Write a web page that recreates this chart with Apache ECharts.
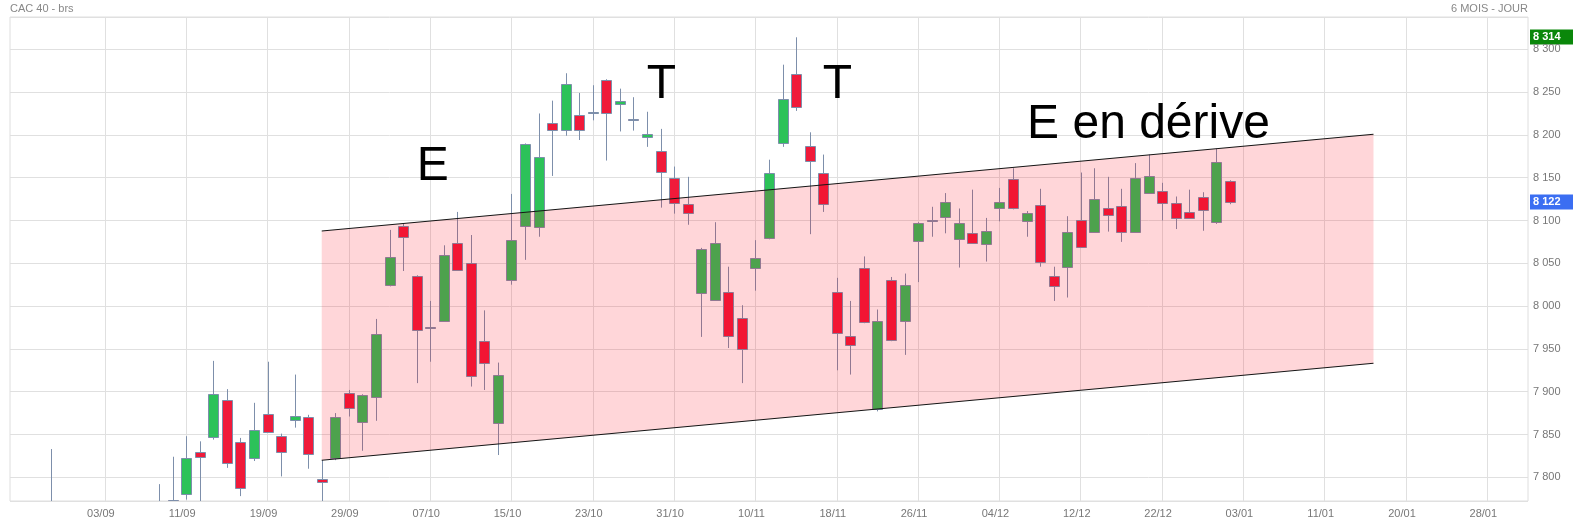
<!DOCTYPE html>
<html><head><meta charset="utf-8">
<script src="https://cdn.jsdelivr.net/npm/echarts@6/dist/echarts.min.js"></script>
<style>html,body{margin:0;padding:0;background:#fff}#c{width:1573px;height:522px}</style>
</head><body><div id="c"></div>
<script>
// ---- data ----
const categories = ['25/08','26/08','27/08','28/08','29/08','01/09','02/09','03/09','04/09','05/09','08/09','09/09','10/09','11/09','12/09','15/09','16/09','17/09','18/09','19/09','22/09','23/09','24/09','25/09','26/09','29/09','30/09','01/10','02/10','03/10','06/10','07/10','08/10','09/10','10/10','13/10','14/10','15/10','16/10','17/10','20/10','21/10','22/10','23/10','24/10','27/10','28/10','29/10','30/10','31/10','03/11','04/11','05/11','06/11','07/11','10/11','11/11','12/11','13/11','14/11','17/11','18/11','19/11','20/11','21/11','24/11','25/11','26/11','27/11','28/11','01/12','02/12','03/12','04/12','05/12','08/12','09/12','10/12','11/12','12/12','15/12','16/12','17/12','18/12','19/12','22/12','23/12','24/12','29/12','30/12','31/12','03/01','05/01','06/01','07/01','08/01','09/01','11/01','12/01','13/01','14/01','15/01','16/01','20/01','21/01','22/01','23/01','26/01','27/01','28/01','29/01','30/01','02/02'];

const opens  = [null,null,null,7745,7740,7705,7710,7660,7720,7700,7690,7740,7774,7781,7830,7847,7890,7841,7822,7874,7848,7867,7871,7798,7822,7899,7865,7894,8025,8093,8035,7976,7983,8074,8050,7959,7863,8030,8093,8092,8214,8206,8223,8225,8264,8236,8219,8198,8181,8150,8119,8015,8007,8016,7986,8044,8080,8190,8271,8187,8156,8017,7965,8045,7880,8030,7982,8076,8100,8104,8078,8085,8072,8115,8148,8099,8118,8035,8046,8100,8087,8114,8117,8087,8132,8135,8120,8110,8127,8098,8146];
const closes = [null,null,null,7752,7705,7710,7655,7720,7700,7690,7735,7745,7760,7823,7824,7897,7817,7787,7855,7853,7830,7872,7827,7795,7870,7881,7896,7967,8057,8081,7972,7975,8060,8042,7918,7934,7919,8077,8189,8174,8206,8259,8206,8227,8225,8240,8217,8201,8157,8121,8109,8067,8074,7965,7950,8056,8156,8242,8232,8170,8119,7968,7954,7981,7982,7960,8025,8097,8099,8122,8097,8074,8088,8122,8114,8109,8052,8023,8086,8069,8125,8106,8086,8150,8152,8121,8103,8103,8112,8168,8122];
const lows   = [null,null,null,7735,7695,7690,7640,7650,7680,7670,7680,7720,7750,7774,7765,7844,7811,7778,7819,7853,7801,7858,7810,7765,7820,7871,7831,7866,8023,8041,7910,7935,7983,8042,7906,7902,7826,8025,8054,8081,8152,8199,8194,8217,8170,8204,8205,8186,8115,8108,8095,7964,8006,7951,7910,8018,8078,8186,8228,8084,8110,7925,7920,7980,7877,7959,7943,8028,8081,8085,8045,8073,8052,8099,8113,8081,8046,8006,8010,8068,8086,8087,8075,8087,8131,8100,8090,8103,8088,8096,8119];
const highs  = [null,null,null,7833,7760,7750,7725,7740,7745,7755,7760,7792,7824,7848,7842,7936,7903,7846,7887,7935,7851,7920,7873,7820,7875,7902,7897,7985,8089,8096,8036,8006,8071,8110,8083,7995,7934,8131,8190,8225,8240,8272,8249,8258,8265,8254,8244,8227,8207,8163,8151,8068,8098,8046,8001,8077,8171,8282,8314,8203,8177,8033,8006,8058,7996,8034,8038,8098,8116,8132,8114,8136,8103,8138,8161,8111,8137,8046,8105,8156,8161,8151,8137,8167,8177,8144,8128,8136,8133,8184,8147];

// trend channel (x in trading-day index, y in index points)
const channelX      = [23, 100.6];
const channelTop    = [8087.7, 8200.7];
const channelBottom = [7819.9, 7933.2];

// annotations (x in trading-day index, y in index points)
const annoText = ['E', 'T', 'T', 'E en dérive'];
const annoX    = [31.2, 48.06, 61.04, 84.0];
const annoY    = [8162.5, 8258.3, 8258.3, 8211.6];

const titleLeft = 'CAC 40 - brs';
const titleRight = '6 MOIS - JOUR';

// ---- chart ----
const FONT = '"Liberation Sans", Arial, sans-serif';
const fmt = v => String(Math.round(v)).replace(/\B(?=(\d{3})+(?!\d))/g, ' ');
const labelEvery = i => i >= 7 && (i - 7) % 6 === 0;

const UP = '#2cc259', DOWN = '#f01a3a', WICK = '#7d8fab';
const candleData = [];
opens.forEach((o, i) => { if (o != null) candleData.push([i, o, closes[i], lows[i], highs[i]]); });

const chart = echarts.init(document.getElementById('c'), null, {renderer: 'canvas'});
const option = {
  animation: false,
  backgroundColor: '#fff',
  grid: {left: 10, right: 45, top: 17, bottom: 21, show: true, borderColor: '#dedede', borderWidth: 1, containLabel: false},
  xAxis: [{
    type: 'category', data: categories, boundaryGap: false,
    axisLine: {show: false}, axisTick: {show: false},
    axisLabel: {interval: labelEvery, color: '#777', fontFamily: FONT, fontSize: 11, margin: 7, padding: [0, 8, 0, 0]},
    splitLine: {show: true, interval: labelEvery, lineStyle: {color: '#e0e0e0', width: 1}}
  }, {
    type: 'value', min: 0, max: categories.length - 1, show: false, splitLine: {show: false}
  }],
  yAxis: [{
    type: 'value', position: 'right', min: 7772.3, max: 8337.7, scale: true,
    splitNumber: 11, minInterval: 50, maxInterval: 50,
    axisLine: {show: false}, axisTick: {show: false},
    axisLabel: {color: '#777', fontFamily: FONT, fontSize: 11, margin: 5, showMinLabel: false, showMaxLabel: false,
                formatter: fmt, padding: [0, 0, 4, 0]},
    splitLine: {show: true, lineStyle: {color: '#e0e0e0', width: 1}}
  }],
  series: [{
    type: 'custom', xAxisIndex: 0, yAxisIndex: 0, z: 2, clip: true, silent: true,
    data: candleData,
    encode: {x: 0, y: [1, 2, 3, 4]},
    renderItem(params, api) {
      const i = api.value(0), o = api.value(1), c = api.value(2), l = api.value(3), h = api.value(4);
      const pO = api.coord([i, o]), pC = api.coord([i, c]), pL = api.coord([i, l]), pH = api.coord([i, h]);
      const cx = Math.round(pO[0]) + 0.5;
      const up = c > o;
      let top = Math.round(Math.min(pO[1], pC[1])) + 0.5;
      let bot = Math.round(Math.max(pO[1], pC[1])) + 0.5;
      if (bot - top < 1) bot = top + 1;
      const left = Math.round(pO[0]) - 5 + 0.5;
      return {type: 'group', children: [
        {type: 'line', shape: {x1: cx, y1: pH[1], x2: cx, y2: pL[1]}, style: {stroke: WICK, lineWidth: 1}},
        {type: 'rect', shape: {x: left, y: top, width: 10, height: bot - top},
         style: {fill: up ? UP : DOWN, stroke: WICK, lineWidth: 1}}
      ]};
    }
  }, {
    type: 'custom', xAxisIndex: 1, yAxisIndex: 0, z: 5, silent: true, clip: false,
    data: [[channelX[0], channelTop[0]]],
    renderItem(params, api) {
      const tl = api.coord([channelX[0], channelTop[0]]);
      const tr = api.coord([channelX[1], channelTop[1]]);
      const br = api.coord([channelX[1], channelBottom[1]]);
      const bl = api.coord([channelX[0], channelBottom[0]]);
      return {type: 'group', children: [
        {type: 'polygon', shape: {points: [tl, tr, br, bl]}, style: {fill: 'rgba(255,0,16,0.16)'}},
        {type: 'line', shape: {x1: tl[0], y1: tl[1], x2: tr[0], y2: tr[1]}, style: {stroke: '#151515', lineWidth: 1.1}},
        {type: 'line', shape: {x1: bl[0], y1: bl[1], x2: br[0], y2: br[1]}, style: {stroke: '#151515', lineWidth: 1.1}}
      ]};
    }
  }, {
    type: 'custom', xAxisIndex: 1, yAxisIndex: 0, z: 6, silent: true, clip: false,
    data: annoText.map((t, i) => [annoX[i], annoY[i]]),
    renderItem(params, api) {
      const p = api.coord([api.value(0), api.value(1)]);
      return {type: 'text', x: p[0], y: p[1], style: {
        text: annoText[params.dataIndex], fontSize: 48, fontFamily: FONT, fill: '#000',
        align: 'center', verticalAlign: 'middle'}};
    }
  }]
};
chart.setOption(option);

const hiVal = Math.max(...highs.filter(v => v != null));
const lastClose = closes[closes.length - 1];
const yHi = chart.convertToPixel({yAxisIndex: 0}, hiVal);
const yLast = chart.convertToPixel({yAxisIndex: 0}, lastClose);
const tag = (y, val, bg) => ({type: 'group', z: 100, children: [
  {type: 'rect', shape: {x: 1530, y: Math.round(y) - 7.5, width: 43, height: 15}, style: {fill: bg}},
  {type: 'text', x: 1533, y: Math.round(y), style: {text: fmt(val), fill: '#fff', font: 'bold 11px ' + FONT, verticalAlign: 'middle', align: 'left'}}
]});
chart.setOption({graphic: [
  {type: 'text', left: 10, top: 3, z: 100, style: {text: titleLeft, fill: '#888', font: '11px ' + FONT}},
  {type: 'text', right: 45, top: 3, z: 100, style: {text: titleRight, fill: '#888', font: '11px ' + FONT}},
  tag(yHi, hiVal, '#0a870a'),
  tag(yLast, lastClose, '#3b6ef2')
]});
</script></body></html>
